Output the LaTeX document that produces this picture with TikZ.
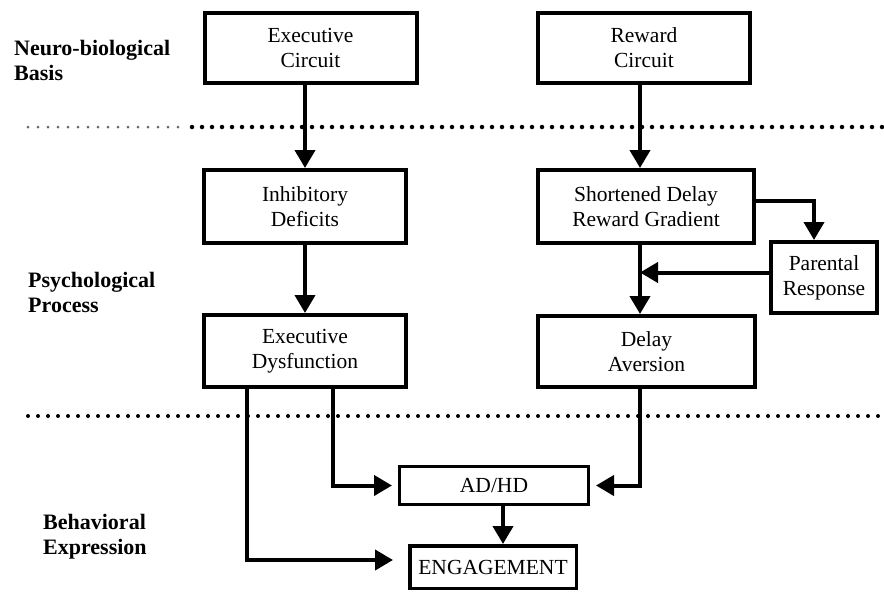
\documentclass[tikz,border=0pt]{standalone}
\usepackage{fontspec}
\setmainfont{Liberation Serif}
\usetikzlibrary{arrows.meta,calc}
\begin{document}
\begin{tikzpicture}[x=1pt,y=-1pt,
  box/.style={draw,line width=4pt,inner sep=0pt,align=center,font=\fontsize{21.5}{25}\selectfont},
  lbl/.style={anchor=west,inner sep=0pt,align=left,font=\bfseries\fontsize{22}{25}\selectfont},
  arr/.style={line width=4pt,-{Triangle[length=18pt,width=20pt]}},
  dotline/.style={line width=4.5pt,line cap=round,dash pattern=on 0pt off 10pt}]
\useasboundingbox[fill=white] (0,0) rectangle (884,592);

% dotted separators
\draw[dotline,line width=3pt,black!60] (28,127) -- (186,127);
\draw[dotline] (192,127) -- (884,127);
\draw[dotline,line width=4pt] (28,416) -- (884,416);

% level labels
\node[lbl] (l1) at (14,60.5) {Neuro-biological\\Basis};
\node[lbl] (l2) at (28,292.5) {Psychological\\Process};
\node[lbl] (l3) at (43,536.5) {Behavioral\\Expression};

% boxes
\node[box,minimum width=212pt,minimum height=70pt] (ec) at (310.5,48) {Executive\\Circuit};
\node[box,minimum width=212pt,minimum height=70pt] (rc) at (644,48) {Reward\\Circuit};
\node[box,minimum width=202pt,minimum height=73pt] (id) at (305,206.5) {Inhibitory\\Deficits};
\node[box,minimum width=202pt,minimum height=72pt] (ed) at (305,351) {Executive\\Dysfunction};
\node[box,minimum width=216pt,minimum height=73pt] (sd) at (646,206.5) {Shortened Delay\\Reward Gradient};
\node[box,minimum width=217pt,minimum height=71pt] (da) at (646.5,351.5) {Delay\\Aversion};
\node[box,minimum width=106pt,minimum height=71pt] (pr) at (824,277.5) {Parental\\Response};
\node[box,line width=3pt,minimum width=189pt,minimum height=38pt] (adhd) at (494,485.5) {AD/HD};
\node[box,line width=3.5pt,minimum width=166.5pt,minimum height=42.5pt] (eng) at (493,567) {ENGAGEMENT};

% connectors
\coordinate (sp) at (640,0);
\draw[arr] (id.north |- ec.south) -- (id.north);
\draw[arr] (id.south) -- (ed.north);
\draw[arr] (sp |- rc.south) -- (sp |- sd.north);
\draw[arr] (sp |- sd.south) -- (sp |- da.north);
\coordinate (sde) at ($(sd.east)+(0,-6)$);
\draw[arr] (sde) -| ($(pr.north)+(-10,0)$);
\coordinate (prw) at ($(pr.west)+(0,-5)$);
\draw[arr] (prw) -- (sp |- prw);
\draw[arr] (sp |- da.south) |- ($(adhd.east)+(6,0)$);
\coordinate (e1) at ($(ed.south)+(28,0)$);
\draw[arr] (e1) |- ($(adhd.west)+(-6,0)$);
\coordinate (e2) at ($(ed.south)+(-58,0)$);
\draw[arr] (e2) |- ($(eng.west)+(-15,-7)$);
\draw[arr] ($(adhd.south)+(9,0)$) -- ($(eng.north)+(10,0)$);
\end{tikzpicture}
\end{document}
